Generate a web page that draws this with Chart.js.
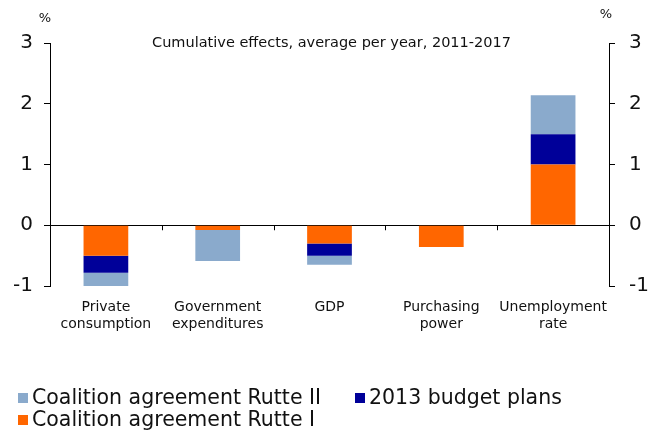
<!DOCTYPE html>
<html>
<head>
<meta charset="utf-8">
<script src="https://cdn.jsdelivr.net/npm/chart.js@4/dist/chart.umd.min.js"></script>
<style>
    body { margin: 0; background: #fff; }
    #wrap { position: relative; width: 651px; height: 430px; overflow: hidden; }
    #legend { position: absolute; left: 18px; top: 386px; width: 640px; font-family: 'DejaVu Sans', Verdana, sans-serif; font-size: 20.5px; color: #111; }
    .item { position: absolute; white-space: nowrap; line-height: 22px; }
    .box { display: inline-block; width: 10px; height: 10px; margin-right: 4px; vertical-align: 1px; }
</style>
</head>
<body>
<div id="wrap">
    <canvas id="chart" width="651" height="430"></canvas>
    <div id="legend"></div>
</div>
<script>
// Categories (x axis)
const categories = [
    ['Private', 'consumption'],
    ['Government', 'expenditures'],
    ['GDP'],
    ['Purchasing', 'power'],
    ['Unemployment', 'rate']
];

// Series values (% change)
const rutte1 = [-0.50, -0.08, -0.30, -0.36, 1.00];
const budget2013 = [-0.28, 0, -0.20, 0, 0.50];
const rutte2 = [-0.22, -0.51, -0.15, 0, 0.64];

// Axis settings
const yTicks = [-1, 0, 1, 2, 3];
const chartTitle = 'Cumulative effects, average per year, 2011-2017';
const unitLabel = '%';

const seriesNames = ['Coalition agreement Rutte I', '2013 budget plans', 'Coalition agreement Rutte II'];
const seriesColors = ['#ff6600', '#000099', '#8aaacc'];

const FONT = "'DejaVu Sans', Verdana, sans-serif";

// Small tick marks on the zero line between categories + title + % labels
const extrasPlugin = {
    id: 'extras',
    afterDraw(chart) {
        const ctx = chart.ctx;
        const x = chart.scales.x;
        const y = chart.scales.y;
        const zero = y.getPixelForValue(0);
        ctx.save();
        ctx.strokeStyle = '#000';
        ctx.lineWidth = 1;
        for (let i = 0; i < categories.length - 1; i++) {
            const px = Math.round((x.getPixelForValue(i) + x.getPixelForValue(i + 1)) / 2) + 0.5;
            ctx.beginPath();
            ctx.moveTo(px, zero);
            ctx.lineTo(px, zero + 5);
            ctx.stroke();
        }
        ctx.fillStyle = '#111';
        ctx.font = '14.5px ' + FONT;
        ctx.textAlign = 'center';
        ctx.textBaseline = 'middle';
        ctx.fillText(chartTitle, (chart.chartArea.left + chart.chartArea.right) / 2 + 2, chart.chartArea.top);
        ctx.font = '13px ' + FONT;
        ctx.fillText(unitLabel, chart.chartArea.left - 5, chart.chartArea.top - 24);
        ctx.fillText(unitLabel, chart.chartArea.right - 3, chart.chartArea.top - 28);
        ctx.restore();
    }
};

const yAxisCommon = {
    min: -1,
    max: 3,
    afterBuildTicks: axis => { axis.ticks = yTicks.map(v => ({ value: v })); },
    border: { display: true, color: '#000', width: 1 },
    grid: {
        color: c => (c.tick && c.tick.value === 0 ? '#000' : 'rgba(0,0,0,0)'),
        tickColor: '#000',
        tickLength: 6
    },
    ticks: { color: '#111', font: { family: FONT, size: 20 } }
};

new Chart(document.getElementById('chart'), {
    type: 'bar',
    data: {
        labels: categories,
        datasets: seriesNames.map((name, i) => ({
            label: name,
            data: [rutte1, budget2013, rutte2][i],
            backgroundColor: seriesColors[i],
            borderWidth: 0,
            categoryPercentage: 1,
            barPercentage: 0.4
        }))
    },
    options: {
        responsive: false,
        animation: false,
        layout: { padding: { top: 43, right: 0, bottom: 0, left: 0 } },
        plugins: { legend: { display: false }, tooltip: { enabled: false } },
        scales: {
            x: {
                stacked: true,
                border: { display: false },
                grid: { display: false },
                ticks: { color: '#111', padding: 5, font: { family: FONT, size: 14 }, maxRotation: 0, autoSkip: false },
                afterFit: s => { s.height = 144; }
            },
            y: Object.assign({}, yAxisCommon, {
                stacked: true,
                position: 'left',
                ticks: Object.assign({}, yAxisCommon.ticks, { padding: 11 }),
                afterFit: s => { s.width = 50; }
            }),
            y2: Object.assign({}, yAxisCommon, {
                position: 'right',
                grid: Object.assign({}, yAxisCommon.grid, { drawOnChartArea: false }),
                ticks: Object.assign({}, yAxisCommon.ticks, { padding: 14 }),
                afterFit: s => { s.width = 42; }
            })
        }
    },
    plugins: [extrasPlugin]
});

// HTML legend (order as in the original)
const legendOrder = [2, 1, 0];
const legendPos = [[0, 0], [337, 0], [0, 22]];
const legend = document.getElementById('legend');
legendOrder.forEach((idx, k) => {
    const el = document.createElement('div');
    el.className = 'item';
    el.style.left = legendPos[k][0] + 'px';
    el.style.top = legendPos[k][1] + 'px';
    el.innerHTML = '<span class="box" style="background:' + seriesColors[idx] + '"></span>' + seriesNames[idx];
    legend.appendChild(el);
});
</script>
</body>
</html>
